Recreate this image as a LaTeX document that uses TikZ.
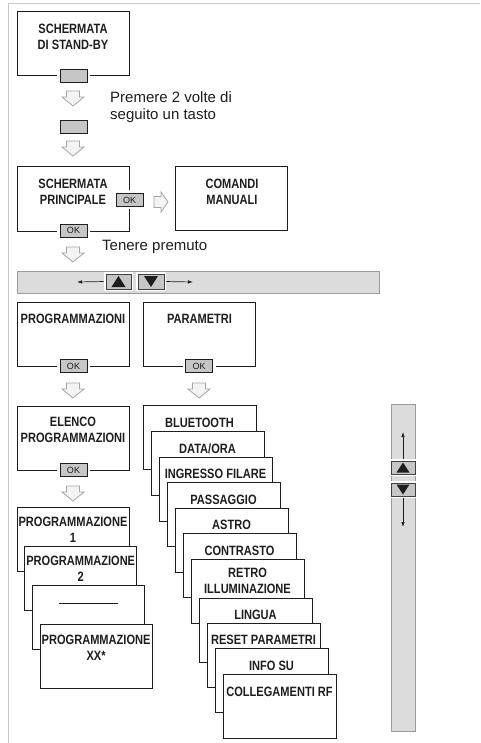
\documentclass[tikz,border=0pt]{standalone}
\usepackage{fontspec}
\setmainfont{Liberation Sans}
\newfontfamily\condsans[FakeStretch=0.82]{Liberation Sans}
\usetikzlibrary{positioning, arrows.meta}
\definecolor{screenline}{RGB}{30,30,30}
\definecolor{inkgray}{RGB}{30,30,30}
\definecolor{keygray}{RGB}{198,198,198}
\definecolor{barfill}{RGB}{220,220,220}
\definecolor{barline}{RGB}{155,155,155}
\definecolor{hintgray}{RGB}{165,165,165}
\definecolor{hintfill}{RGB}{244,244,244}
\definecolor{pagegray}{RGB}{200,200,200}

\tikzset{
  screen/.style={draw=screenline, fill=white, line width=1pt, minimum width=112pt, minimum height=64pt, inner sep=0pt},
  title/.style={font=\condsans\bfseries\fontsize{13.5}{16}\selectfont, text=inkgray, align=center, inner sep=0pt, anchor=base},
  hint/.style={font=\fontsize{15}{17}\selectfont, text=inkgray, align=left, inner sep=0pt},
  key/.style={draw=inkgray, fill=keygray, line width=0.8pt, minimum width=27pt, minimum height=13pt, inner sep=0pt, font=\fontsize{9}{9}\selectfont, text=inkgray, preaction={draw=white, line width=6pt}},
  barkey/.style={draw=inkgray!85, fill=keygray, line width=0.8pt, inner sep=0pt, preaction={draw=white, line width=4pt}},
  bar/.style={draw=barline, fill=barfill, line width=1pt, inner sep=0pt},
  scrollarrow/.style={draw=inkgray, line width=0.7pt, shorten <=2pt, -{Latex[length=5pt,width=3.5pt]}},
  hintdown/.pic={\draw[hintgray, fill=hintfill, line width=0.8pt] (-6.5,0) -- (6.5,0) -- (6.5,6) -- (11,6) -- (0,15) -- (-11,6) -- (-6.5,6) -- cycle;},
  hintright/.pic={\draw[hintgray, fill=hintfill, line width=0.8pt] (0,-5.5) -- (7,-5.5) -- (7,-10) -- (14,0) -- (7,10) -- (7,5.5) -- (0,5.5) -- cycle;}
}

\begin{document}
\begin{tikzpicture}[x=1pt, y=-1pt]
\useasboundingbox (0,0) rectangle (480,743);

% Page frame
\draw[pagegray, line width=1.5pt] (8.5,743) -- (8.5,3.5) -- (480,3.5);

% Stand-by screen
\node[screen] (standby) at (73,43.5) {};
\node[title] (standbyT) at (73,49.5) {SCHERMATA\\DI STAND-BY};
\node[key] (standbyK) at (73.5,75.5) {};

% Press a key twice
\pic (down1) at (73,91) {hintdown};
\node[key] (anyK) at (73.5,126.5) {};
\node[hint, anchor=base west] (pressT) at (110,120) {Premere 2 volte di\\seguito un tasto};
\pic (down2) at (73,141) {hintdown};

% Main screen and manual commands
\node[screen] (mainscr) at (73,199) {};
\node[title] (mainT) at (73,204.5) {SCHERMATA\\PRINCIPALE};
\node[key] (mainOK) at (129.5,200) {OK};
\node[key] (mainOKb) at (73.5,230.5) {OK};
\pic (right1) at (154,202) {hintright};
\node[screen] (manual) at (231.5,198.5) {};
\node[title] (manualT) at (232,204.5) {COMANDI\\MANUALI};

% Hold pressed
\node[hint, anchor=base west] (holdT) at (102,250) {Tenere premuto};
\pic (down3) at (73,247) {hintdown};

% Horizontal scroll bar
\node[bar, minimum width=362pt, minimum height=22pt] (hbar) at (198,282) {};
\coordinate (hleft) at (77,282);
\coordinate (hright) at (193,282);
\node[barkey, minimum width=25pt, minimum height=15pt] (hup) at (118.5,281.5) {};
\node[barkey, minimum width=26pt, minimum height=15pt] (hdown) at (151,281.5) {};
\fill[inkgray] (hup.center) +(-7,5.5) -- +(7,5.5) -- +(0,-5.5) -- cycle;
\fill[inkgray] (hdown.center) +(-7,-5.5) -- +(7,-5.5) -- +(0,5.5) -- cycle;
\draw[scrollarrow] (hup.west) -- (hleft);
\draw[scrollarrow] (hdown.east) -- (hright);

% Menus
\node[screen] (prog) at (73,334) {};
\node[title] (progT) at (73,323.5) {PROGRAMMAZIONI};
\node[key] (progOK) at (73.5,366) {OK};
\pic (down4) at (73,383) {hintdown};
\node[screen] (param) at (199.5,334) {};
\node[title] (paramT) at (199.5,323.5) {PARAMETRI};
\node[key] (paramOK) at (199,366) {OK};
\pic (down5) at (199,383) {hintdown};

% Program list
\node[screen] (list) at (73,438) {};
\node[title] (listT) at (73,442.5) {ELENCO\\PROGRAMMAZIONI};
\node[key] (listOK) at (73.5,470) {OK};
\pic (down6) at (73,486) {hintdown};

% Program cards
\foreach \i/\t in {0/{PROGRAMMAZIONE\\1}, 1/{PROGRAMMAZIONE\\2}, 2/{\rule[17.5pt]{59pt}{0.9pt}}, 3/{PROGRAMMAZIONE\\XX*}} {
  \node[screen] (card\i) at (73+7.7*\i, 539+39.3*\i) {};
  \node[title] (cardT\i) at (73+7.7*\i, 542.5+39.3*\i) {\t};
}

% Parameter cards
\foreach \i/\top/\dy/\t in {0/405/22.5/BLUETOOTH, 1/431/22.5/{DATA/ORA}, 2/457/21.5/{INGRESSO FILARE}, 3/482/22.5/PASSAGGIO, 4/508/21.5/ASTRO, 5/533/22.5/CONTRASTO, 6/559/34.5/{RETRO\\ILLUMINAZIONE}, 7/598/21.5/LINGUA, 8/623/21.5/{RESET PARAMETRI}, 9/648/22.5/{INFO SU}, 10/674/22.5/{COLLEGAMENTI RF}} {
  \node[screen, minimum width=113pt] (par\i) at (199.5+8*\i, \top+32) {};
  \node[title] (parT\i) at (199.5+8*\i, \top+\dy) {\t};
}

% Vertical scroll bar
\node[bar, minimum width=24pt, minimum height=327pt] (vbar) at (403,567.5) {};
\coordinate (vtop) at (403,432);
\coordinate (vbot) at (403,527);
\node[barkey, minimum width=24pt, minimum height=13pt] (vup) at (403,467.5) {};
\node[barkey, minimum width=24pt, minimum height=13pt] (vdown) at (403,489.5) {};
\fill[inkgray] (vup.center) +(-6.5,5) -- +(6.5,5) -- +(0,-5) -- cycle;
\fill[inkgray] (vdown.center) +(-6.5,-5) -- +(6.5,-5) -- +(0,5) -- cycle;
\draw[scrollarrow] (vup.north) -- (vtop);
\draw[scrollarrow] (vdown.south) -- (vbot);
\end{tikzpicture}
\end{document}
